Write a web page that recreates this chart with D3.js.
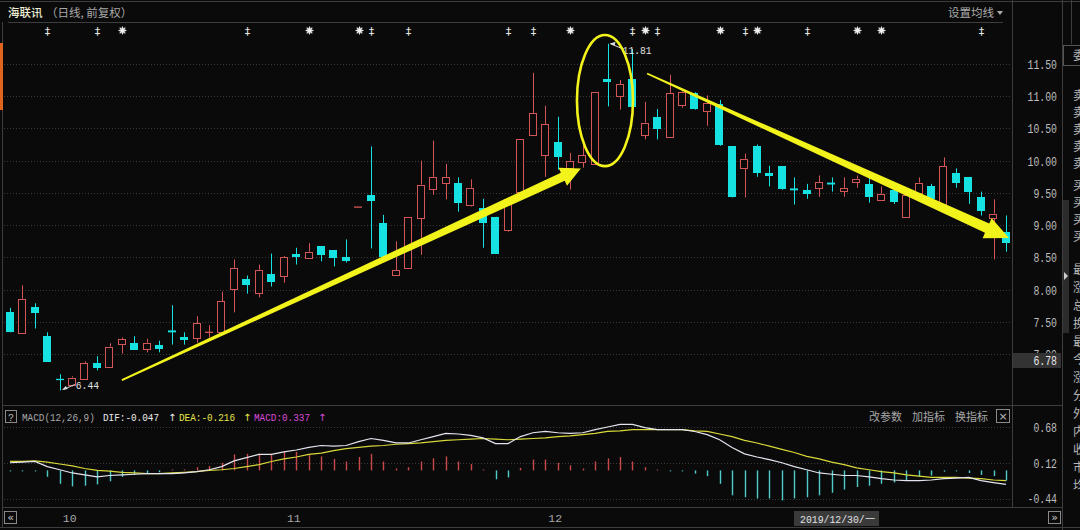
<!DOCTYPE html>
<html><head><meta charset="utf-8">
<script src="https://cdn.jsdelivr.net/npm/d3@7/dist/d3.min.js"></script>
<style>
html,body{margin:0;padding:0;background:#0a0a0b;overflow:hidden;}
svg{display:block;}
</style></head><body>
<svg id="c" width="1080" height="530"></svg>
<script>
// ---------------- data ----------------
const dates = [
"2019-09-25","2019-09-26","2019-09-27","2019-09-30",
"2019-10-08","2019-10-09","2019-10-10","2019-10-11","2019-10-14","2019-10-15","2019-10-16","2019-10-17","2019-10-18",
"2019-10-21","2019-10-22","2019-10-23","2019-10-24","2019-10-25","2019-10-28","2019-10-29","2019-10-30","2019-10-31",
"2019-11-01","2019-11-04","2019-11-05","2019-11-06","2019-11-07","2019-11-08","2019-11-11","2019-11-12","2019-11-13",
"2019-11-14","2019-11-15","2019-11-18","2019-11-19","2019-11-20","2019-11-21","2019-11-22","2019-11-25","2019-11-26",
"2019-11-27","2019-11-28","2019-11-29",
"2019-12-02","2019-12-03","2019-12-04","2019-12-05","2019-12-06","2019-12-09","2019-12-10","2019-12-11","2019-12-12",
"2019-12-13","2019-12-16","2019-12-17","2019-12-18","2019-12-19","2019-12-20","2019-12-23","2019-12-24","2019-12-25",
"2019-12-26","2019-12-27","2019-12-30","2019-12-31",
"2020-01-02","2020-01-03","2020-01-06","2020-01-07","2020-01-08","2020-01-09","2020-01-10","2020-01-13","2020-01-14",
"2020-01-15","2020-01-16","2020-01-17","2020-01-20","2020-01-21","2020-01-22","2020-01-23"];

const open  = [7.65,7.34,7.74,7.29,6.62,6.53,6.61,6.87,6.81,7.15, 7.18,7.09,7.15,7.37,7.27,7.24,7.33,7.34,8.02,8.17,
               7.96,8.24,8.20,8.55,8.50,8.67,8.61,8.50,9.28,9.47, 9.04,8.22,8.34,9.12,9.57,9.66,9.66,9.32,9.27,9.13,
               8.92,9.52,10.40,10.08,10.29,9.89,9.97,9.95,11.27,10.99, 11.27,10.40,10.68,10.37,10.87,11.04,10.77,10.87,10.22,9.89,
               10.23,9.81,9.91,9.57,9.55,9.58,9.66,9.54,9.67,9.64, 9.40,9.55,9.13,9.50,9.60,9.32,9.81,9.74,9.43,9.12, 8.90];
const high  = [7.72,8.07,7.79,7.34,6.69,6.66,6.89,6.97,7.17,7.26, 7.28,7.24,7.21,7.76,7.34,7.59,7.45,7.97,8.47,8.22,
               8.39,8.56,8.52,8.65,8.72,8.67,8.61,8.78,9.28,10.22, 9.16,8.75,9.13,10.00,10.31,9.95,9.74,9.71,9.41,9.13,
               9.42,10.34,11.36,10.85,10.68,10.12,10.26,11.07,11.81,11.25, 11.73,10.91,10.80,11.33,11.09,11.06,11.01,10.94,10.22,10.11,
               10.25,9.92,9.91,9.74,9.64,9.77,9.74,9.74,9.77,9.75, 9.60,9.60,9.47,9.74,9.64,10.05,9.88,9.75,9.52,9.40, 9.15];
const low   = [7.34,7.34,7.40,6.89,6.44,6.50,6.61,6.75,6.81,7.01, 7.07,7.03,7.03,7.15,7.15,7.18,7.26,7.34,7.65,7.94,
               7.88,8.05,8.11,8.39,8.50,8.44,8.36,8.42,9.28,8.64, 8.51,8.22,8.34,8.54,9.47,9.40,9.21,9.29,8.65,8.56,
               8.90,9.52,10.40,9.75,9.86,9.55,9.89,9.95,10.84,10.79, 10.84,10.33,10.33,10.37,10.82,10.79,10.54,10.23,9.43,9.43,
               9.75,9.60,9.55,9.32,9.41,9.44,9.52,9.44,9.58,9.35, 9.40,9.33,9.13,9.50,9.29,9.32,9.58,9.33,9.15,8.47, 8.59];
const close = [7.34,7.86,7.65,6.89,6.60,6.64,6.86,6.80,7.12,7.23, 7.07,7.18,7.09,7.34,7.23,7.48,7.35,7.82,8.34,8.08,
               8.31,8.11,8.50,8.51,8.59,8.53,8.48,8.44,9.28,9.37, 8.51,8.30,9.13,9.63,9.75,9.75,9.35,9.58,9.04,8.56,
               9.40,10.34,10.74,10.56,10.06,10.00,10.08,11.07,11.22,11.18, 10.84,10.59,10.50,11.05,11.07,10.79,10.90,10.23,9.43,10.03,
               9.81,9.77,9.55,9.54,9.49,9.67,9.63,9.58,9.72,9.44, 9.49,9.37,9.47,9.66,9.40,9.91,9.66,9.50,9.21,9.18, 8.73];

const dif  = [0.12,0.13,0.14,0.06,0.01,-0.04,-0.07,-0.10,-0.08,-0.07, -0.06,-0.05,-0.05,-0.05,-0.04,-0.02,0.01,0.06,0.15,0.20,
              0.25,0.25,0.29,0.32,0.36,0.39,0.38,0.39,0.45,0.50, 0.47,0.43,0.43,0.48,0.53,0.58,0.57,0.55,0.51,0.42,
              0.42,0.53,0.59,0.61,0.59,0.58,0.59,0.64,0.68,0.72, 0.72,0.67,0.64,0.64,0.64,0.61,0.56,0.48,0.36,0.26,
              0.21,0.17,0.12,0.06,0.01,-0.04,-0.06,-0.08,-0.08,-0.10, -0.13,-0.15,-0.16,-0.16,-0.15,-0.13,-0.12,-0.11,-0.16,-0.19, -0.22];
const dea  = [0.14,0.14,0.15,0.13,0.10,0.07,0.03,0.00,-0.01,-0.03, -0.04,-0.05,-0.05,-0.04,-0.03,-0.02,0.00,0.01,0.03,0.06,
              0.09,0.14,0.18,0.21,0.25,0.27,0.31,0.34,0.36,0.38, 0.39,0.41,0.42,0.43,0.45,0.47,0.48,0.49,0.50,0.49,
              0.48,0.49,0.50,0.51,0.53,0.54,0.56,0.58,0.61,0.62, 0.64,0.64,0.64,0.64,0.64,0.62,0.61,0.57,0.53,0.47,
              0.43,0.38,0.33,0.28,0.22,0.18,0.13,0.09,0.04,0.01, -0.02,-0.04,-0.07,-0.09,-0.11,-0.11,-0.11,-0.12,-0.13,-0.15, -0.16];
const macd = [-0.01,-0.01,-0.01,-0.10,-0.21,-0.25,-0.24,-0.22,-0.17,-0.10, -0.07,-0.05,-0.03,0.00,0.01,0.05,0.07,0.12,0.25,0.26,
              0.26,0.26,0.29,0.29,0.24,0.22,0.18,0.14,0.21,0.26, 0.14,0.03,0.05,0.14,0.19,0.22,0.14,0.10,0.01,-0.14,
              -0.11,0.04,0.17,0.17,0.12,0.08,0.03,0.14,0.19,0.21, 0.14,0.05,0.01,-0.01,-0.01,-0.05,-0.09,-0.21,-0.39,-0.42,
              -0.44,-0.44,-0.47,-0.44,-0.42,-0.39,-0.35,-0.30,-0.26,-0.24, -0.21,-0.19,-0.16,-0.10,-0.08,-0.02,-0.01,-0.04,-0.07,-0.09, -0.16];

const priceTicks = [7.00,7.50,8.00,8.50,9.00,9.50,10.00,10.50,11.00,11.50];
const macdTicks  = [0.68,0.12,-0.44];
const monthDates = ["2019-10-08","2019-11-01","2019-12-02"];
const monthTexts = ["10","11","12"];
const markerIdx  = [3,7,9,19,24,28,29,32,40,42,45,50,51,52,57,59,60,64,68,70,78];
const markerType = ["d","d","s","d","s","s","d","d","d","d","s","d","s","d","s","d","s","d","s","s","d"];

// annotations (index, price)
const upArrowIdx = [8.99, 45.86],  upArrowPrice = [6.60, 9.88];
const dnArrowIdx = [51.17, 80.24], dnArrowPrice = [11.35, 8.80];
const ringIdx = 47.79, ringPrice = 10.93, ringRxBands = 2.25, ringRyPrice = 1.015;
const crossDate = "2019-12-30", crossDateText = "2019/12/30/一", crossPrice = "6.78";

// ---------------- scales ----------------
const svg = d3.select("#c");
svg.append("rect").attr("width",1080).attr("height",530).attr("fill","#0a0a0b");

const x = d3.scaleBand().domain(dates).range([3.775, 1012.2]).paddingInner(0.32).paddingOuter(0.16);
const bw = x.bandwidth();
const xc = d => x(d) + bw/2;
const xi = i => x(dates[0]) + bw/2 + i * x.step();
const yP = d3.scaleLinear().domain([7, 11.5]).range([354.3, 63.8]);
const yM = d3.scaleLinear().domain([-0.44, 0.68]).range([498.5, 427]);

const FRAME = "#3d3d3d", GRID = "#3a3a3a", AXT = "#bdbdbd";
const RED = "#d35656", CYAN = "#16e2e2", YEL = "#f3f31c";
const MONO = "'Liberation Mono','DejaVu Sans Mono',monospace";
const CJK = "'Noto Sans CJK SC','Noto Sans',sans-serif";

function mono(g, str, xx, yy, size, color, anchor, per){
  const t = g.append("text").attr("x",xx).attr("y",yy).text(str)
    .attr("font-family",MONO).attr("font-size",size).attr("fill",color)
    .attr("text-anchor",anchor||"start");
  if(per){ t.attr("textLength", str.length*per).attr("lengthAdjust","spacingAndGlyphs"); }
  return t;
}
function hline(y, x1, x2, color, dash){
  const l = svg.append("line").attr("x1",x1).attr("x2",x2).attr("y1",y).attr("y2",y).attr("stroke",color||FRAME);
  if(dash) l.attr("stroke-dasharray",dash);
  return l;
}
function vline(xx, y1, y2, color){
  return svg.append("line").attr("x1",xx).attr("x2",xx).attr("y1",y1).attr("y2",y2).attr("stroke",color||FRAME);
}

// ---------------- frame ----------------
hline(1.5, 0, 1080);
hline(22.5, 8, 1003);
vline(2.5, 22, 528);
vline(1012.5, 0, 507);
vline(1062.5, 0, 530);
hline(405.5, 3, 1063);
hline(507.5, 3, 1063);
hline(527.5, 0, 1080);
svg.append("rect").attr("x",0).attr("y",43).attr("width",3).attr("height",67).attr("fill","#e0641e");

// title
svg.append("text").attr("x",8).attr("y",17).attr("font-family",CJK).attr("font-size",11.5).attr("font-weight",500)
  .attr("fill","#ececd2").text("海联讯");
svg.append("text").attr("x",46).attr("y",17).attr("font-family",CJK).attr("font-size",11.5)
  .attr("fill","#a9a9a9").text("（日线, 前复权）");
svg.append("text").attr("x",948).attr("y",17).attr("font-family",CJK).attr("font-size",11.5)
  .attr("fill","#aaaaaa").text("设置均线");
svg.append("path").attr("d","M997,11 L1003,11 L1000,15 Z").attr("fill","#aaaaaa");

// ---------------- price grid + axis ----------------
svg.append("g").selectAll("line").data(priceTicks).join("line")
  .attr("x1",4).attr("x2",1011)
  .attr("y1",d=>Math.round(yP(d))+0.5).attr("y2",d=>Math.round(yP(d))+0.5)
  .attr("stroke",GRID).attr("stroke-dasharray","1,2");

const axP = svg.append("g").attr("transform","translate(1012,0)")
  .call(d3.axisRight(yP).tickValues(priceTicks).tickFormat(d3.format(".2f")).tickSize(0));
axP.select(".domain").remove();
axP.selectAll("text").attr("x",45).attr("dy","0.35em").attr("text-anchor","end")
  .attr("fill",AXT).attr("font-family",MONO).attr("font-size",12.5)
  .each(function(){ const s=this.textContent; d3.select(this).attr("textLength",s.length*5.9).attr("lengthAdjust","spacingAndGlyphs"); });

// crosshair price box
svg.append("rect").attr("x",1013).attr("y",353).attr("width",48).attr("height",15).attr("fill","#333334");
mono(svg, crossPrice, 1057, 364.5, 12.5, "#e8e8e8", "end", 5.9);

// ---------------- event markers ----------------
const mg = svg.append("g");
markerIdx.forEach((d,i)=>{
  const mx = Math.round(xc(dates[d])) + 0.5, my = 30.5;
  if (markerType[i] === "d") {
    mg.append("text").attr("x",mx).attr("y",my+4.5).attr("text-anchor","middle")
      .attr("font-family","'DejaVu Sans',sans-serif").attr("font-size",11).attr("fill","#e6e6e6").text("‡");
  } else {
    const s = mg.append("g").attr("transform",`translate(${mx},${my})`);
    [0,45,90,135,22.5,67.5,112.5,157.5].forEach((a,k)=>{
      const r = k<4 ? 4 : 3, t = a*Math.PI/180;
      s.append("line").attr("x1",-r*Math.cos(t)).attr("y1",-r*Math.sin(t)).attr("x2",r*Math.cos(t)).attr("y2",r*Math.sin(t))
        .attr("stroke","#e6e6e6").attr("stroke-width",k<4?1.1:0.8);
    });
    s.append("circle").attr("r",1.8).attr("fill","#f0f0f0");
  }
});

// ---------------- candles ----------------
const cg = svg.append("g");
dates.forEach((d,i)=>{
  const o=open[i], h=high[i], l=low[i], c=close[i];
  const up = c >= o;
  const col = up ? RED : CYAN;
  const cx = Math.round(xc(d)) + 0.5;
  const left = Math.round(x(d)) + 0.5;
  const w = Math.round(bw) - 1;
  const yt = yP(Math.max(o,c)), yb = yP(Math.min(o,c));
  const yh = yP(h), yl = yP(l);
  const bh = yb - yt;
  if (bh < 2) {
    if (yl - yh > 0.5) cg.append("line").attr("x1",cx).attr("x2",cx).attr("y1",yh).attr("y2",yl).attr("stroke",col);
    const ym = (yt+yb)/2;
    cg.append("line").attr("x1",left-0.5).attr("x2",left+w+0.5).attr("y1",ym).attr("y2",ym)
      .attr("stroke",col).attr("stroke-width",Math.max(1.3,bh));
  } else if (up) {
    if (yt - yh > 0.3) cg.append("line").attr("x1",cx).attr("x2",cx).attr("y1",yh).attr("y2",yt).attr("stroke",col);
    if (yl - yb > 0.3) cg.append("line").attr("x1",cx).attr("x2",cx).attr("y1",yb).attr("y2",yl).attr("stroke",col);
    cg.append("rect").attr("x",left).attr("y",Math.round(yt)+0.5).attr("width",w)
      .attr("height",Math.max(1,Math.round(bh))).attr("fill","#0a0a0b").attr("stroke",col);
  } else {
    cg.append("line").attr("x1",cx).attr("x2",cx).attr("y1",yh).attr("y2",yl).attr("stroke",col);
    cg.append("rect").attr("x",left-0.5).attr("y",Math.round(yt)).attr("width",w+1)
      .attr("height",Math.max(1,Math.round(bh))).attr("fill",col);
  }
});

// max / min labels
const iMax = d3.maxIndex(high), iMin = d3.minIndex(low);
(function(){
  const hx = xc(dates[iMax]) + 1, hy = yP(high[iMax]);
  svg.append("line").attr("x1",hx+2).attr("y1",hy).attr("x2",hx+14).attr("y2",hy+5).attr("stroke","#dddddd");
  svg.append("path").attr("d",`M${hx+1},${hy} l6,-2 l-1,4 Z`).attr("fill","#dddddd");
  mono(svg, high[iMax].toFixed(2), hx+14, hy+10, 11.5, "#e0e0e0", "start", 5.8);
  const lx = xc(dates[iMin]) + 2, ly = yP(low[iMin]) - 1;
  svg.append("line").attr("x1",lx+2).attr("y1",ly).attr("x2",lx+13).attr("y2",ly-5).attr("stroke","#dddddd");
  svg.append("path").attr("d",`M${lx},${ly+0.5} l6,-1 l-2,-3 Z`).attr("fill","#dddddd");
  mono(svg, low[iMin].toFixed(2), lx+14, ly, 11.5, "#e0e0e0", "start", 5.8);
})();

// ---------------- annotations ----------------
function taper(x1,y1,x2,y2,w1,w2,hl,hw){
  const dx=x2-x1, dy=y2-y1, L=Math.hypot(dx,dy), ux=dx/L, uy=dy/L, nx=-uy, ny=ux;
  const bx=x2-ux*hl, by=y2-uy*hl;
  const p=[[x1+nx*w1/2,y1+ny*w1/2],[bx+nx*w2/2,by+ny*w2/2],[bx+nx*hw/2,by+ny*hw/2],[x2,y2],
           [bx-nx*hw/2,by-ny*hw/2],[bx-nx*w2/2,by-ny*w2/2],[x1-nx*w1/2,y1-ny*w1/2]];
  return "M"+p.map(q=>q[0].toFixed(1)+","+q[1].toFixed(1)).join("L")+"Z";
}
const ag = svg.append("g");
ag.append("path").attr("d",taper(xi(upArrowIdx[0]),yP(upArrowPrice[0]),xi(upArrowIdx[1]),yP(upArrowPrice[1]),2,9,20,20))
  .attr("fill",YEL);
ag.append("path").attr("d",taper(xi(dnArrowIdx[0]),yP(dnArrowPrice[0]),xi(dnArrowIdx[1]),yP(dnArrowPrice[1]),1.5,10,24,22))
  .attr("fill",YEL);
ag.append("ellipse").attr("cx",xi(ringIdx)).attr("cy",yP(ringPrice))
  .attr("rx",ringRxBands*x.step()).attr("ry",yP(10)-yP(10+ringRyPrice))
  .attr("fill","none").attr("stroke",YEL).attr("stroke-width",2.6);

// ---------------- MACD panel ----------------
svg.append("g").selectAll("line").data(macdTicks).join("line")
  .attr("x1",4).attr("x2",1011)
  .attr("y1",d=>Math.round(yM(d))+0.5).attr("y2",d=>Math.round(yM(d))+0.5)
  .attr("stroke",GRID).attr("stroke-dasharray","1,2");

const axM = svg.append("g").attr("transform","translate(1012,0)")
  .call(d3.axisRight(yM).tickValues(macdTicks).tickFormat(d3.format(".2f")).tickSize(0));
axM.select(".domain").remove();
axM.selectAll("text").attr("x",45).attr("dy","0.35em").attr("text-anchor","end")
  .attr("fill",AXT).attr("font-family",MONO).attr("font-size",12.5)
  .text(function(){ return this.textContent.replace("−","-"); })
  .each(function(){ const s=this.textContent; d3.select(this).attr("textLength",s.length*5.9).attr("lengthAdjust","spacingAndGlyphs"); });

svg.append("g").selectAll("line").data(macd).join("line")
  .attr("x1",(v,i)=>Math.round(xc(dates[i]))+0.5).attr("x2",(v,i)=>Math.round(xc(dates[i]))+0.5)
  .attr("y1",yM(0)).attr("y2",v=>Math.abs(yM(v)-yM(0))<1 ? yM(0)+(v>=0?-1:1) : yM(v))
  .attr("stroke",v=>v>=0?"#c94848":"#4fcaca").attr("stroke-width",1.4);

const ln = d3.line().x((v,i)=>xc(dates[i])).y(v=>yM(v));
svg.append("path").datum(dea).attr("d",ln).attr("fill","none").attr("stroke","#d8d83a").attr("stroke-width",1.2);
svg.append("path").datum(dif).attr("d",ln).attr("fill","none").attr("stroke","#e4e4ee").attr("stroke-width",1.2);

// MACD header
const hg = svg.append("g");
hg.append("rect").attr("x",5.5).attr("y",410.5).attr("width",11).attr("height",12).attr("fill","none").attr("stroke","#8a8a8a");
mono(hg,"?",11,420.5,10,"#bbbbbb","middle");
mono(hg,"MACD(12,26,9)",22,420.5,11,"#a8a8a8","start",5.6);
mono(hg,"DIF:-0.047",103,420.5,11,"#ececec","start",5.6);
hg.append("text").attr("x",168).attr("y",420.5).attr("font-family","'DejaVu Sans',sans-serif").attr("font-size",10).attr("fill","#ececec").text("↑");
mono(hg,"DEA:-0.216",179,420.5,11,"#e6e64a","start",5.6);
hg.append("text").attr("x",243).attr("y",420.5).attr("font-family","'DejaVu Sans',sans-serif").attr("font-size",10).attr("fill","#e6e64a").text("↑");
mono(hg,"MACD:0.337",254,420.5,11,"#d94ad9","start",5.6);
hg.append("text").attr("x",318).attr("y",420.5).attr("font-family","'DejaVu Sans',sans-serif").attr("font-size",10).attr("fill","#d94ad9").text("↑");
["改参数","加指标","换指标"].forEach((s,k)=>{
  hg.append("text").attr("x",[869,912,955][k]).attr("y",421).attr("font-family",CJK).attr("font-size",11)
    .attr("fill","#a6a6a6").text(s);
});
hg.append("rect").attr("x",996.5).attr("y",409.5).attr("width",13).attr("height",13).attr("fill","none").attr("stroke","#8a8a8a");
hg.append("text").attr("x",1003).attr("y",420).attr("text-anchor","middle").attr("font-family","'DejaVu Sans',sans-serif")
  .attr("font-size",11).attr("fill","#bbbbbb").text("×");

// ---------------- date axis ----------------
svg.append("g").selectAll("text").data(monthDates).join("text")
  .attr("x",d=>xc(d)+3).attr("y",522).attr("font-family",MONO).attr("font-size",11.5).attr("fill","#a8a8a8")
  .text((d,i)=>monthTexts[i]);
svg.append("rect").attr("x",Math.round(xc(crossDate))).attr("y",511).attr("width",85).attr("height",15).attr("fill","#3a3a3b");
svg.append("text").attr("x",Math.round(xc(crossDate))+6).attr("y",522.5).attr("font-family",MONO).attr("font-size",11.5)
  .attr("fill","#e2e2e2").attr("textLength",75).attr("lengthAdjust","spacingAndGlyphs").text(crossDateText);
svg.append("rect").attr("x",4.5).attr("y",511.5).attr("width",12).attr("height",12).attr("fill","none").attr("stroke","#8a8a8a");
svg.append("text").attr("x",10.5).attr("y",521).attr("text-anchor","middle").attr("font-family","'DejaVu Sans',sans-serif").attr("font-size",11).attr("fill","#cccccc").text("«");
svg.append("rect").attr("x",1048.5).attr("y",511.5).attr("width",12).attr("height",12).attr("fill","none").attr("stroke","#8a8a8a");
svg.append("text").attr("x",1054.5).attr("y",521).attr("text-anchor","middle").attr("font-family","'DejaVu Sans',sans-serif").attr("font-size",11).attr("fill","#cccccc").text("»");

// ---------------- right sidebar (truncated by the window, as in the reference) ----------------
const sb = svg.append("g");
sb.append("rect").attr("x",1063).attr("y",200).attr("width",6).attr("height",133).attr("fill","#2c2c2c");
sb.append("path").attr("d","M1064,272 l4,4 l-4,4 Z").attr("fill","#cfcfcf");
vline(1071.5, 0, 44);
sb.append("rect").attr("x",1063.5).attr("y",45.5).attr("width",20).attr("height",20).attr("fill","none").attr("stroke","#555");
const sideChars = [["委",60],["卖",100],["卖",117],["卖",134],["卖",151],["卖",168],["买",190],["买",207],["买",224],["买",241],
  ["最",274],["涨",292],["总",310],["换",328],["最",346],["今",364],["涨",382],["分",400],["外",418],["内",436],["收",454],["市",472],["均",490]];
sb.selectAll("text").data(sideChars).join("text")
  .attr("x",1073).attr("y",d=>d[1]).attr("font-family",CJK).attr("font-size",12).attr("fill","#b8b8b8").text(d=>d[0]);
</script>
</body></html>
